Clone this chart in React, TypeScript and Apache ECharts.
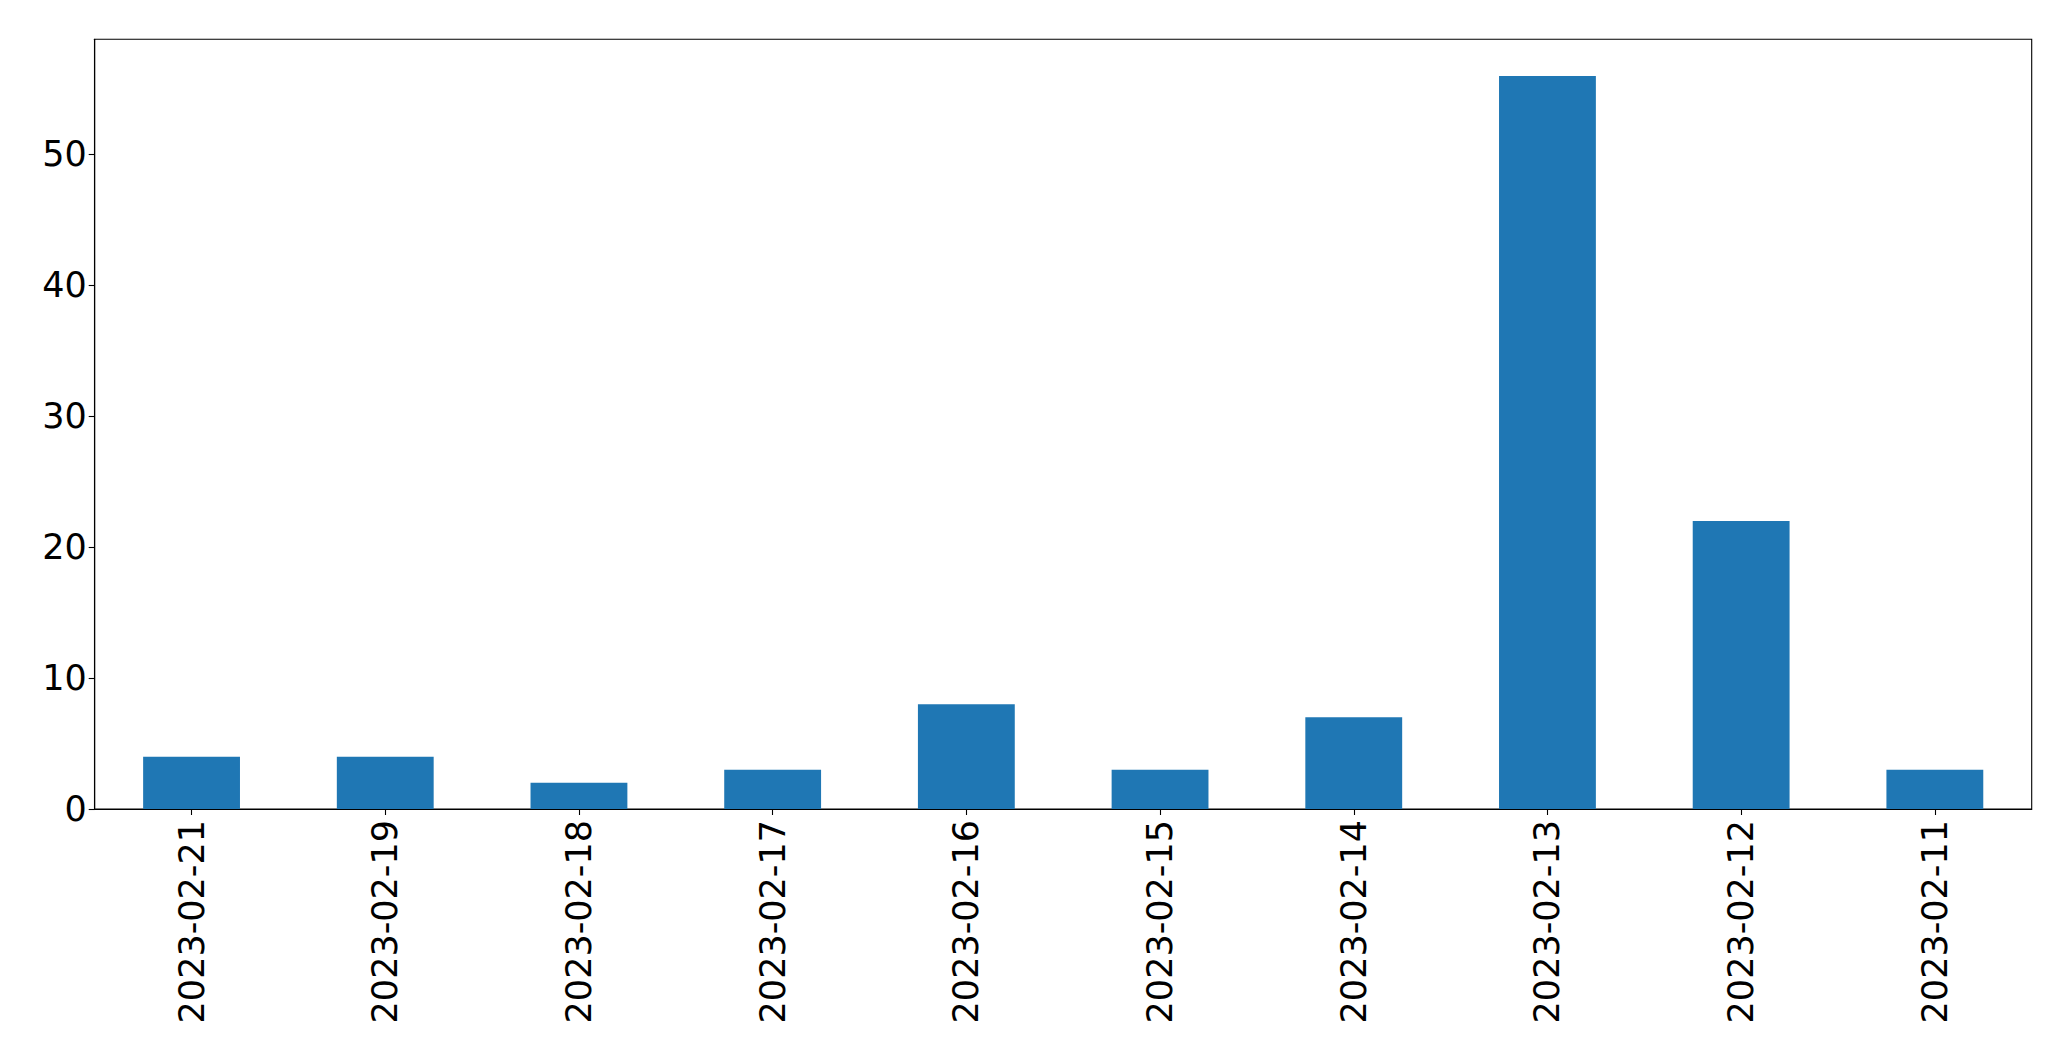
import React, { useEffect, useRef } from "react";
import * as echarts from "echarts";

const categories = [
  "2023-02-21",
  "2023-02-19",
  "2023-02-18",
  "2023-02-17",
  "2023-02-16",
  "2023-02-15",
  "2023-02-14",
  "2023-02-13",
  "2023-02-12",
  "2023-02-11",
];
const counts = [4, 4, 2, 3, 8, 3, 7, 56, 22, 3];
const yTicks = [0, 10, 20, 30, 40, 50];
const yMax = 58.8;

export default function App() {
  const ref = useRef<HTMLDivElement>(null);
  useEffect(() => {
    document.body.style.margin = "0";
    const chart = echarts.init(ref.current!, null, { renderer: "svg" });
    const font = "DejaVu Sans";
    chart.setOption({
      animation: false,
      backgroundColor: "#ffffff",
      grid: {
        left: 94.7,
        top: 39.3,
        right: 39.3,
        bottom: 252,
        show: true,
        borderColor: "#000000",
        borderWidth: 1.1,
        backgroundColor: "transparent",
      },
      xAxis: {
        type: "category",
        data: categories,
        boundaryGap: true,
        axisLine: { show: true, lineStyle: { color: "#000000", width: 1.1 } },
        axisTick: {
          show: true,
          alignWithLabel: true,
          length: 6,
          lineStyle: { color: "#000000", width: 1.1 },
        },
        axisLabel: {
          rotate: 90,
          interval: 0,
          margin: 11,
          fontSize: 35,
          fontFamily: font,
          color: "#000000",
        },
        splitLine: { show: false },
      },
      yAxis: {
        type: "value",
        min: 0,
        max: yMax,
        interval: 10,
        axisLine: { show: true, lineStyle: { color: "#000000", width: 1.1 } },
        axisTick: {
          show: true,
          length: 6,
          customValues: yTicks,
          lineStyle: { color: "#000000", width: 1.1 },
        },
        axisLabel: {
          margin: 8,
          fontSize: 35,
          fontFamily: font,
          color: "#000000",
          customValues: yTicks,
        },
        splitLine: { show: false },
      },
      series: [
        {
          type: "bar",
          data: counts,
          barWidth: "50%",
          itemStyle: { color: "#1f77b4" },
        },
      ],
    });
    return () => chart.dispose();
  }, []);
  return (
    <div
      ref={ref}
      style={{ position: "absolute", left: 0, top: 0, width: 2071, height: 1061 }}
    />
  );
}
